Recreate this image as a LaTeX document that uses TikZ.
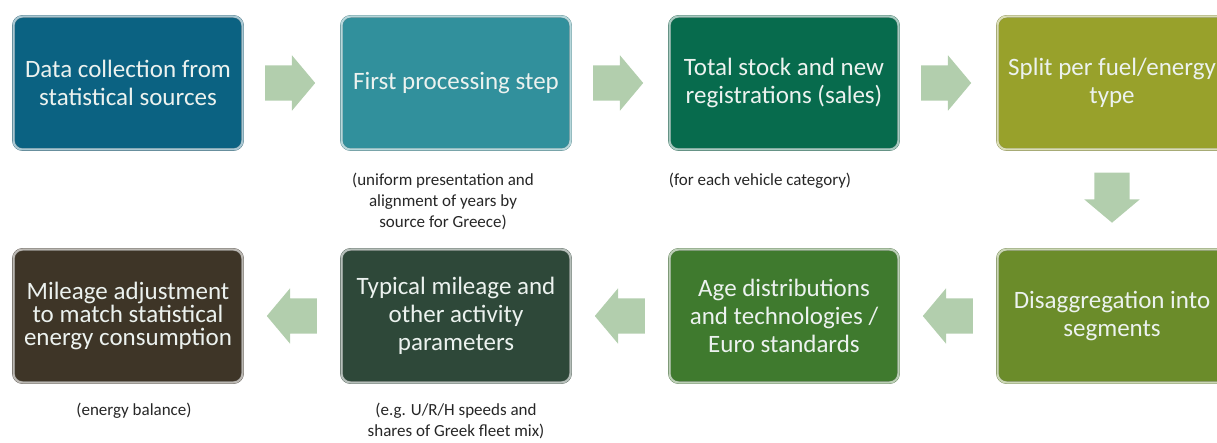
\documentclass[tikz,border=0pt]{standalone}
\usepackage{fontspec}
\setmainfont{Carlito}
\usetikzlibrary{calc}
\usetikzlibrary{positioning}
\usetikzlibrary{shapes.arrows}

\definecolor{sources}{HTML}{0B6282}
\definecolor{processing}{HTML}{31909C}
\definecolor{stock}{HTML}{076B4D}
\definecolor{fuel}{HTML}{98A12B}
\definecolor{segments}{HTML}{6B8C2A}
\definecolor{ages}{HTML}{3F7A2E}
\definecolor{mileage}{HTML}{2E4839}
\definecolor{adjust}{HTML}{3E3527}
\definecolor{boxtext}{HTML}{ECF2EF}
\definecolor{flowgreen}{HTML}{B2CEAD}

\tikzset{
    stepbox/.style={rectangle, rounded corners=9pt, minimum width=229pt, minimum height=133pt,
        align=center, fill=#1, draw=#1!50!gray, double=#1!35!white, double distance=2pt,
        text=boxtext, font=\fontsize{25}{28}\selectfont},
    note/.style={align=center, inner sep=0pt, text=black!85, font=\fontsize{17}{21}\selectfont},
    flow/.style={single arrow, fill=flowgreen, draw=none, anchor=tail,
        minimum height=50pt, single arrow head extend=10pt,
        single arrow tip angle=100, shape border rotate=#1},   % #1 = direction of the arrow
    flow across/.style={flow=#1, inner xsep=0pt, inner ysep=17.5pt},
    flow down/.style={flow=270, inner xsep=17.5pt, inner ysep=0pt}
    }

\begin{document}
\begin{tikzpicture}[x=1pt,y=-1pt]
	\useasboundingbox (0,0) rectangle (1217,443);

	% top row, left to right
	\node[stepbox=sources] (sources) at (128,83) {Data collection from\\statistical sources};
	\node[stepbox=processing] (first) at (456,83) {First processing step};
	\node[stepbox=stock] (stock) at (784,83) {Total stock and new\\registrations (sales)};
	\node[stepbox=fuel] (fuel) at (1112,83) {Split per fuel/energy\\type};

	% bottom row, right to left
	\node[stepbox=segments] (segments) at (1112,316) {Disaggregation into\\segments};
	\node[stepbox=ages] (ages) at (784,316) {Age distributions\\and technologies /\\Euro standards};
	\node[stepbox=mileage] (mileage) at (456,316) {Typical mileage and\\other activity\\parameters};
	\node[stepbox=adjust, font=\fontsize{25}{23}\selectfont] (adjust) at (128,316)
		{Mileage adjustment\\to match statistical\\energy consumption};

	% notes under the steps
	\node[note, below=23pt of first, xshift=-13pt] (firstnote) {(uniform presentation and\\alignment of years by\\source for Greece)};
	\node[note, below=23pt of stock, xshift=-24pt] (stocknote) {(for each vehicle category)};
	\node[note, below=20pt of mileage] (mileagenote) {(e.g. U/R/H speeds and\\shares of Greek fleet mix)};
	\node[note, below=20pt of adjust, xshift=6pt] (adjustnote) {(energy balance)};

	% block arrows between the steps (tail put half a length before the gap's middle)
	\node[flow across=0] (a1) at ($(sources.east)!0.5!(first.west)+(-27,0)$) {};
	\node[flow across=0] (a2) at ($(first.east)!0.5!(stock.west)+(-27,0)$) {};
	\node[flow across=0] (a3) at ($(stock.east)!0.5!(fuel.west)+(-27,0)$) {};
	\node[flow down] (a4) at ($(fuel.south)!0.5!(segments.north)+(0,-27)$) {};
	\node[flow across=180] (a5) at ($(segments.west)!0.5!(ages.east)+(25,0)$) {};
	\node[flow across=180] (a6) at ($(ages.west)!0.5!(mileage.east)+(25,0)$) {};
	\node[flow across=180] (a7) at ($(mileage.west)!0.5!(adjust.east)+(25,0)$) {};
\end{tikzpicture}
\end{document}
